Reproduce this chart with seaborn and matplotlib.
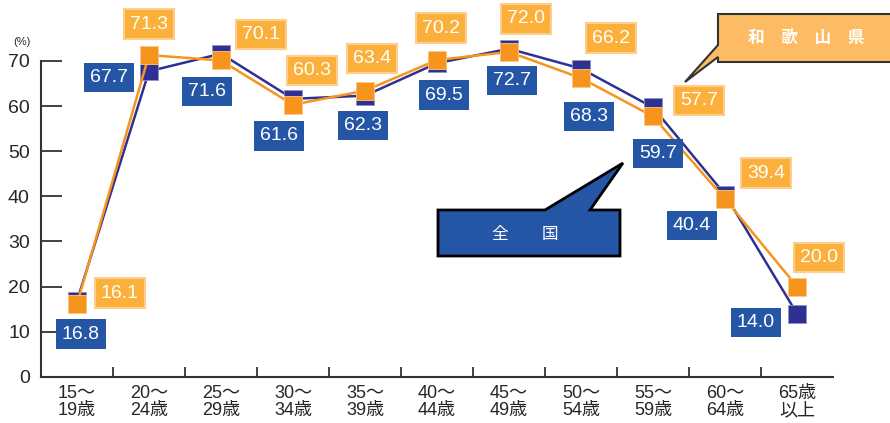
import pandas as pd
import seaborn as sns
import matplotlib.pyplot as plt
from matplotlib.patches import Polygon
from matplotlib.ticker import FixedLocator

# ===============================
# data
# ===============================
age_labels = ["15～\n19歳", "20～\n24歳", "25～\n29歳", "30～\n34歳", "35～\n39歳",
              "40～\n44歳", "45～\n49歳", "50～\n54歳", "55～\n59歳", "60～\n64歳", "65歳\n以上"]
zenkoku = [16.8, 67.7, 71.6, 61.6, 62.3, 69.5, 72.7, 68.3, 59.7, 40.4, 14.0]
wakayama = [16.1, 71.3, 70.1, 60.3, 63.4, 70.2, 72.0, 66.2, 57.7, 39.4, 20.0]

# label offsets in pixels (x, y) from each point
zen_off = [(4, -33), (-40, -6), (-14, -38), (-14, -37), (-2, -30), (7, -32),
           (3, -32), (8, -48), (5, -46), (-33, -31), (-41, -9)]
wak_off = [(43, 11), (0, 31), (40, 26), (19, 34), (7, 32), (4, 32),
           (17, 33), (30, 40), (46, 16), (41, 26), (22, 29)]

df = pd.DataFrame({"x": range(len(age_labels)), "zen": zenkoku, "wak": wakayama})

BLUE_LINE = "#2e3192"
BLUE_BOX = "#2456a5"
ORANGE_LINE = "#f7941d"
ORANGE_BOX = "#fbb03b"

sns.set_style("white")
plt.rcParams['font.family'] = ['Liberation Sans', 'Noto Sans CJK JP']

fig = plt.figure(figsize=(8.9, 4.23), dpi=100)
ax = fig.add_axes([0.046, 0.109, 0.890, 0.747])

sns.lineplot(x="x", y="zen", data=df, color=BLUE_LINE, lw=1.8, marker="s",
             markersize=13, markeredgewidth=0.6, markeredgecolor="#8f91c4",
             ax=ax, zorder=3)
sns.lineplot(x="x", y="wak", data=df, color=ORANGE_LINE, lw=1.8, marker="s",
             markersize=13, markeredgewidth=0.6, markeredgecolor="#fbc98a",
             ax=ax, zorder=4)
for ln in ax.lines:
    ln.set_clip_on(False)

for i in range(len(age_labels)):
    ax.annotate(f"{zenkoku[i]:.1f}", (i, zenkoku[i]), xytext=zen_off[i],
                textcoords="offset pixels", ha="center", va="center",
                color="white", fontsize=14, zorder=6, annotation_clip=False,
                bbox=dict(boxstyle="square,pad=0.32", fc=BLUE_BOX, ec="none"))
    ax.annotate(f"{wakayama[i]:.1f}", (i, wakayama[i]), xytext=wak_off[i],
                textcoords="offset pixels", ha="center", va="center",
                color="white", fontsize=14, zorder=6, annotation_clip=False,
                bbox=dict(boxstyle="square,pad=0.32", fc=ORANGE_BOX, ec="#fdcf8f", lw=1.5))

ax.set_xlim(-0.5, len(age_labels) - 0.5)
ax.set_ylim(0, 70)
ax.set_yticks(range(0, 71, 10))
ax.set_xticks(range(len(age_labels)))
ax.set_xticklabels(age_labels, fontsize=13, linespacing=1.0)
ax.xaxis.set_minor_locator(FixedLocator([i + 0.5 for i in range(len(age_labels) - 1)]))
ax.tick_params(axis="y", direction="in", length=15, width=1.3, color="#333333",
               labelsize=14, pad=8, left=True)
ax.tick_params(axis="x", which="major", length=0, pad=6)
ax.tick_params(axis="x", which="minor", direction="in", length=7, width=1.3,
               color="#333333", bottom=True)
ax.set_xlabel("")
ax.set_ylabel("")
sns.despine(ax=ax)
for s in ["left", "bottom"]:
    ax.spines[s].set_color("#333333")
    ax.spines[s].set_linewidth(1.5)

fig.text(22 / 890, 1 - 42 / 423, "(%)", fontsize=8, ha="center", va="center")


# callouts (drawn in image pixel coordinates)
def px(pts):
    return [(x / 890, 1 - y / 423) for x, y in pts]


blue_call = [(438, 210), (545, 210), (623, 163), (590, 210), (620, 210),
             (620, 256), (438, 256)]
fig.add_artist(Polygon(px(blue_call), closed=True, transform=fig.transFigure,
                       fc=BLUE_BOX, ec="black", lw=2, zorder=7))
fig.text(525 / 890, 1 - 234 / 423, "全　　国", color="white", fontsize=12,
         ha="center", va="center", zorder=8, family=['Noto Sans CJK JP'])

orange_call = [(718, 14), (895, 14), (895, 62), (718, 62), (718, 57),
               (685, 82), (718, 45)]
fig.add_artist(Polygon(px(orange_call), closed=True, transform=fig.transFigure,
                       fc="#fdbb63", ec="#333333", lw=1.5, zorder=7))
fig.text(806 / 890, 1 - 38 / 423, "和　歌　山　県", color="white", fontsize=12,
         fontweight="bold", ha="center", va="center", zorder=8,
         family=['Noto Sans CJK JP'])

fig.savefig("out.png", dpi=100)
